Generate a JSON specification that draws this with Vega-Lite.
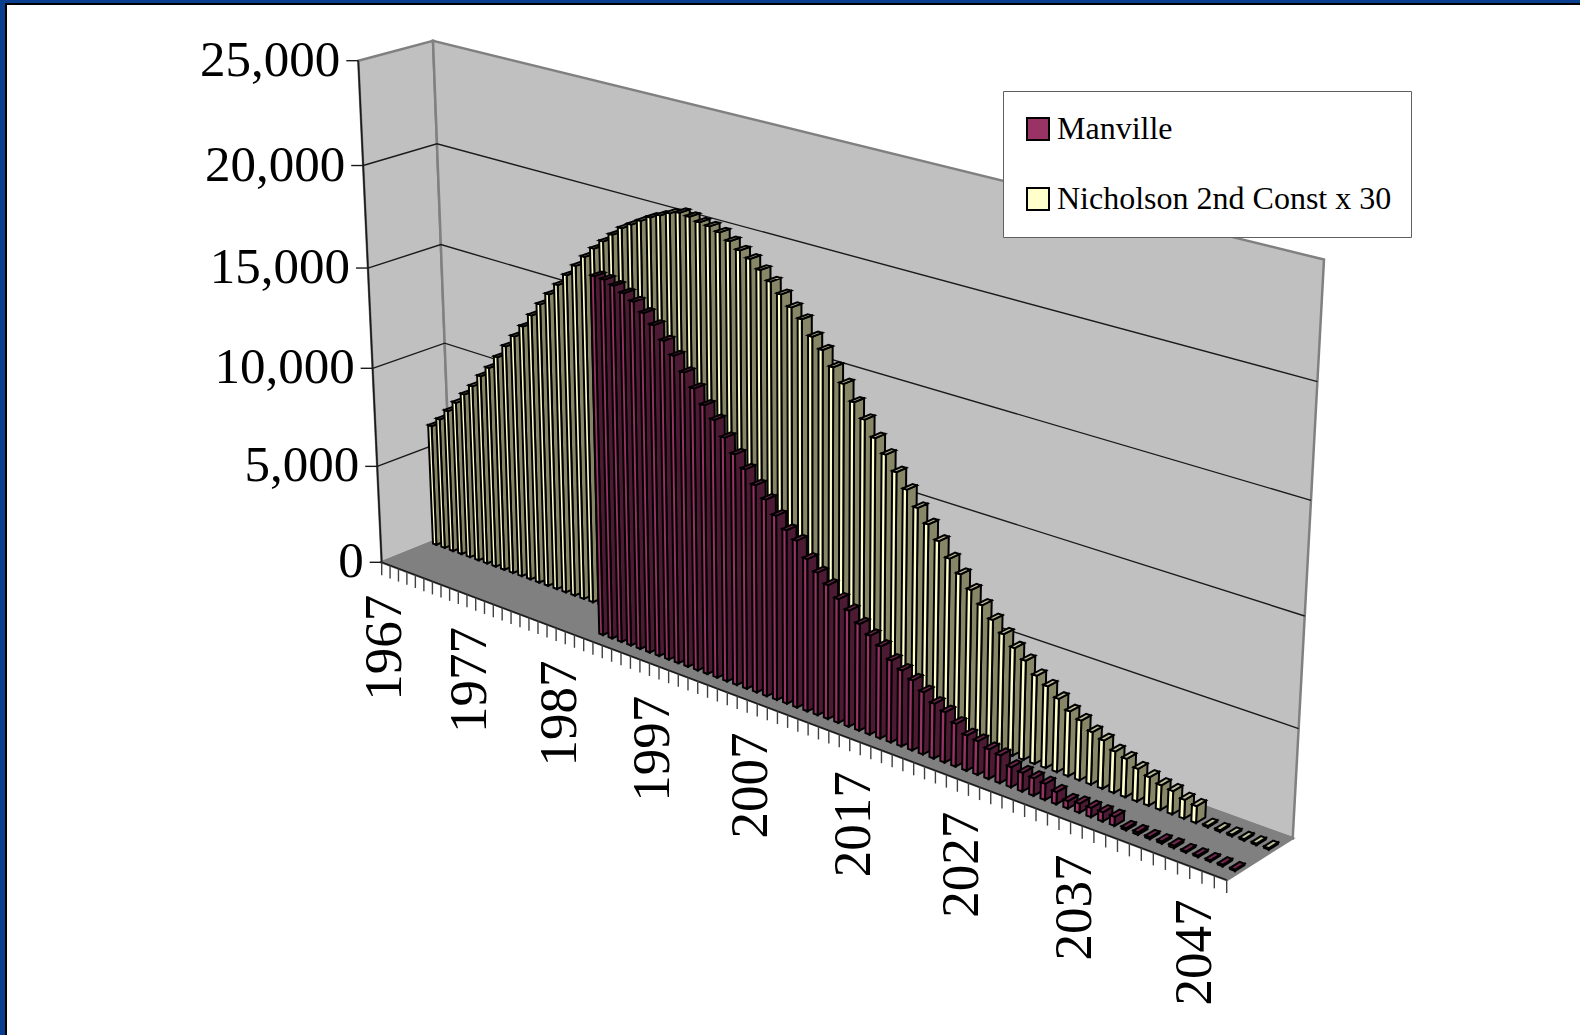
{
"$schema":"https://vega.github.io/schema/vega-lite/v6.json",
"width":1574,"height":1031,"autosize":"none",
"padding":{"left":6,"top":4,"right":0,"bottom":0},
"background":"#0A3F8F",
"view":{"fill":"#ffffff","stroke":"#000000","strokeWidth":2,"strokeDash":[1574,2605,1031,1]},
"projection":{"type":"identity","scale":1,"translate":[-6,-4]},
"data":{"values":[
{"series":"Wall","part":"side"},{"series":"Wall","part":"front"},{"series":"Wall","part":"top"},
{"series":"Nicholson 2nd Const x 30","year":1967,"value":6230},{"series":"Nicholson 2nd Const x 30","year":1968,"value":6720},{"series":"Nicholson 2nd Const x 30","year":1969,"value":7300},{"series":"Nicholson 2nd Const x 30","year":1970,"value":7870},{"series":"Nicholson 2nd Const x 30","year":1971,"value":8440},{"series":"Nicholson 2nd Const x 30","year":1972,"value":9000},{"series":"Nicholson 2nd Const x 30","year":1973,"value":9650},{"series":"Nicholson 2nd Const x 30","year":1974,"value":10210},{"series":"Nicholson 2nd Const x 30","year":1975,"value":10890},{"series":"Nicholson 2nd Const x 30","year":1976,"value":11570},
{"series":"Nicholson 2nd Const x 30","year":1977,"value":12200},{"series":"Nicholson 2nd Const x 30","year":1978,"value":12830},{"series":"Nicholson 2nd Const x 30","year":1979,"value":13510},{"series":"Nicholson 2nd Const x 30","year":1980,"value":14190},{"series":"Nicholson 2nd Const x 30","year":1981,"value":14810},{"series":"Nicholson 2nd Const x 30","year":1982,"value":15400},{"series":"Nicholson 2nd Const x 30","year":1983,"value":16000},{"series":"Nicholson 2nd Const x 30","year":1984,"value":16580},{"series":"Nicholson 2nd Const x 30","year":1985,"value":17140},{"series":"Nicholson 2nd Const x 30","year":1986,"value":17660},
{"series":"Nicholson 2nd Const x 30","year":1987,"value":18130},{"series":"Nicholson 2nd Const x 30","year":1988,"value":18570},{"series":"Nicholson 2nd Const x 30","year":1989,"value":19010},{"series":"Nicholson 2nd Const x 30","year":1990,"value":19300},{"series":"Nicholson 2nd Const x 30","year":1991,"value":19600},{"series":"Nicholson 2nd Const x 30","year":1992,"value":19880},{"series":"Nicholson 2nd Const x 30","year":1993,"value":20100},{"series":"Nicholson 2nd Const x 30","year":1994,"value":20320},{"series":"Nicholson 2nd Const x 30","year":1995,"value":20470},{"series":"Nicholson 2nd Const x 30","year":1996,"value":20410},
{"series":"Nicholson 2nd Const x 30","year":1997,"value":20280},{"series":"Nicholson 2nd Const x 30","year":1998,"value":20220},{"series":"Nicholson 2nd Const x 30","year":1999,"value":20070},{"series":"Nicholson 2nd Const x 30","year":2000,"value":19790},{"series":"Nicholson 2nd Const x 30","year":2001,"value":19500},{"series":"Nicholson 2nd Const x 30","year":2002,"value":19240},{"series":"Nicholson 2nd Const x 30","year":2003,"value":18860},{"series":"Nicholson 2nd Const x 30","year":2004,"value":18460},{"series":"Nicholson 2nd Const x 30","year":2005,"value":18010},{"series":"Nicholson 2nd Const x 30","year":2006,"value":17550},
{"series":"Nicholson 2nd Const x 30","year":2007,"value":17140},{"series":"Nicholson 2nd Const x 30","year":2008,"value":16480},{"series":"Nicholson 2nd Const x 30","year":2009,"value":16010},{"series":"Nicholson 2nd Const x 30","year":2010,"value":15360},{"series":"Nicholson 2nd Const x 30","year":2011,"value":14740},{"series":"Nicholson 2nd Const x 30","year":2012,"value":14040},{"series":"Nicholson 2nd Const x 30","year":2013,"value":13390},{"series":"Nicholson 2nd Const x 30","year":2014,"value":12690},{"series":"Nicholson 2nd Const x 30","year":2015,"value":12080},{"series":"Nicholson 2nd Const x 30","year":2016,"value":11420},
{"series":"Nicholson 2nd Const x 30","year":2017,"value":10770},{"series":"Nicholson 2nd Const x 30","year":2018,"value":10080},{"series":"Nicholson 2nd Const x 30","year":2019,"value":9480},{"series":"Nicholson 2nd Const x 30","year":2020,"value":8870},{"series":"Nicholson 2nd Const x 30","year":2021,"value":8220},{"series":"Nicholson 2nd Const x 30","year":2022,"value":7660},{"series":"Nicholson 2nd Const x 30","year":2023,"value":7100},{"series":"Nicholson 2nd Const x 30","year":2024,"value":6560},{"series":"Nicholson 2nd Const x 30","year":2025,"value":6050},{"series":"Nicholson 2nd Const x 30","year":2026,"value":5560},
{"series":"Nicholson 2nd Const x 30","year":2027,"value":5090},{"series":"Nicholson 2nd Const x 30","year":2028,"value":4680},{"series":"Nicholson 2nd Const x 30","year":2029,"value":4160},{"series":"Nicholson 2nd Const x 30","year":2030,"value":3850},{"series":"Nicholson 2nd Const x 30","year":2031,"value":3450},{"series":"Nicholson 2nd Const x 30","year":2032,"value":3050},{"series":"Nicholson 2nd Const x 30","year":2033,"value":2810},{"series":"Nicholson 2nd Const x 30","year":2034,"value":2460},{"series":"Nicholson 2nd Const x 30","year":2035,"value":2260},{"series":"Nicholson 2nd Const x 30","year":2036,"value":1940},
{"series":"Nicholson 2nd Const x 30","year":2037,"value":1790},{"series":"Nicholson 2nd Const x 30","year":2038,"value":1520},{"series":"Nicholson 2nd Const x 30","year":2039,"value":1330},{"series":"Nicholson 2nd Const x 30","year":2040,"value":1150},{"series":"Nicholson 2nd Const x 30","year":2041,"value":1080},{"series":"Nicholson 2nd Const x 30","year":2042,"value":870},{"series":"Nicholson 2nd Const x 30","year":2043,"value":780},{"series":"Nicholson 2nd Const x 30","year":2044,"value":70},{"series":"Nicholson 2nd Const x 30","year":2045,"value":70},{"series":"Nicholson 2nd Const x 30","year":2046,"value":70},{"series":"Nicholson 2nd Const x 30","year":2047,"value":70},{"series":"Nicholson 2nd Const x 30","year":2048,"value":70},{"series":"Nicholson 2nd Const x 30","year":2049,"value":70},
{"series":"Manville","year":1990,"value":17480},{"series":"Manville","year":1991,"value":17450},{"series":"Manville","year":1992,"value":17300},{"series":"Manville","year":1993,"value":17080},{"series":"Manville","year":1994,"value":16820},{"series":"Manville","year":1995,"value":16430},{"series":"Manville","year":1996,"value":16000},{"series":"Manville","year":1997,"value":15410},{"series":"Manville","year":1998,"value":14850},{"series":"Manville","year":1999,"value":14210},
{"series":"Manville","year":2000,"value":13610},{"series":"Manville","year":2001,"value":12970},{"series":"Manville","year":2002,"value":12430},{"series":"Manville","year":2003,"value":11750},{"series":"Manville","year":2004,"value":11120},{"series":"Manville","year":2005,"value":10570},{"series":"Manville","year":2006,"value":9980},{"series":"Manville","year":2007,"value":9460},{"series":"Manville","year":2008,"value":8860},{"series":"Manville","year":2009,"value":8340},
{"series":"Manville","year":2010,"value":8010},{"series":"Manville","year":2011,"value":7310},{"series":"Manville","year":2012,"value":6840},{"series":"Manville","year":2013,"value":6420},{"series":"Manville","year":2014,"value":5930},{"series":"Manville","year":2015,"value":5560},{"series":"Manville","year":2016,"value":5100},{"series":"Manville","year":2017,"value":4730},{"series":"Manville","year":2018,"value":4390},{"series":"Manville","year":2019,"value":3910},
{"series":"Manville","year":2020,"value":3620},{"series":"Manville","year":2021,"value":3330},{"series":"Manville","year":2022,"value":2960},{"series":"Manville","year":2023,"value":2600},{"series":"Manville","year":2024,"value":2390},{"series":"Manville","year":2025,"value":2030},{"series":"Manville","year":2026,"value":1670},{"series":"Manville","year":2027,"value":1590},{"series":"Manville","year":2028,"value":1400},{"series":"Manville","year":2029,"value":1310},
{"series":"Manville","year":2030,"value":950},{"series":"Manville","year":2031,"value":880},{"series":"Manville","year":2032,"value":820},{"series":"Manville","year":2033,"value":760},{"series":"Manville","year":2034,"value":570},{"series":"Manville","year":2035,"value":350},{"series":"Manville","year":2036,"value":430},{"series":"Manville","year":2037,"value":430},{"series":"Manville","year":2038,"value":430},{"series":"Manville","year":2039,"value":420},
{"series":"Manville","year":2040,"value":100},{"series":"Manville","year":2041,"value":110},{"series":"Manville","year":2042,"value":90},{"series":"Manville","year":2043,"value":100},{"series":"Manville","year":2044,"value":110},{"series":"Manville","year":2045,"value":60},{"series":"Manville","year":2046,"value":70},{"series":"Manville","year":2047,"value":60},{"series":"Manville","year":2048,"value":70},{"series":"Manville","year":2049,"value":60}
]},
"transform":[
{"fold":["side","front","top"],"as":["face","unused"]},
{"filter":"datum.series!='Wall'||datum.part==datum.face"},
{"calculate":"datum.series=='Wall'","as":"isWall"},
{"calculate":"datum.isWall?0:(datum.year-1967+0.3)/83","as":"u0"},
{"calculate":"datum.isWall?(datum.part=='side'?0:1):(datum.year-1967+0.7)/83","as":"u1"},
{"calculate":"datum.isWall?(datum.part=='front'?1:0):(datum.series=='Manville'?0.18:0.69)","as":"v0"},
{"calculate":"datum.isWall?1:datum.v0+0.14","as":"v1"},
{"calculate":"datum.isWall?(datum.part=='top'?0:1):datum.value/25000","as":"w"},
{"calculate":"datum.face=='side'?datum.u1:datum.u0","as":"ua"},
{"calculate":"datum.face=='front'?datum.u0:datum.u1","as":"ub"},
{"calculate":"datum.face=='top'?datum.u0:datum.u1","as":"ud"},
{"calculate":"datum.face=='front'?datum.v0:datum.v1","as":"vc"},
{"calculate":"datum.face=='top'?datum.w:0","as":"wa"},
{"calculate":"(381.7+623.46*datum.ua+79.02*datum.v0-42.75*datum.wa-2.5*datum.ua*datum.wa)/(1-0.1806*datum.ua+0.01929*datum.v0-0.054*datum.wa)","as":"xa"},
{"calculate":"(562.3+158.77*datum.ua-18*datum.v0-504.9*datum.wa+5.5*datum.ua*datum.wa)/(1-0.1806*datum.ua+0.01929*datum.v0-0.054*datum.wa)","as":"ya"},
{"calculate":"(381.7+623.46*datum.ub+79.02*datum.v0-42.75*datum.w-2.5*datum.ub*datum.w)/(1-0.1806*datum.ub+0.01929*datum.v0-0.054*datum.w)","as":"xb"},
{"calculate":"(562.3+158.77*datum.ub-18*datum.v0-504.9*datum.w+5.5*datum.ub*datum.w)/(1-0.1806*datum.ub+0.01929*datum.v0-0.054*datum.w)","as":"yb"},
{"calculate":"(381.7+623.46*datum.u1+79.02*datum.vc-42.75*datum.w-2.5*datum.u1*datum.w)/(1-0.1806*datum.u1+0.01929*datum.vc-0.054*datum.w)","as":"xc"},
{"calculate":"(562.3+158.77*datum.u1-18*datum.vc-504.9*datum.w+5.5*datum.u1*datum.w)/(1-0.1806*datum.u1+0.01929*datum.vc-0.054*datum.w)","as":"yc"},
{"calculate":"(381.7+623.46*datum.ud+79.02*datum.vc-42.75*datum.wa-2.5*datum.ud*datum.wa)/(1-0.1806*datum.ud+0.01929*datum.vc-0.054*datum.wa)","as":"xd"},
{"calculate":"(562.3+158.77*datum.ud-18*datum.vc-504.9*datum.wa+5.5*datum.ud*datum.wa)/(1-0.1806*datum.ud+0.01929*datum.vc-0.054*datum.wa)","as":"yd"},
{"calculate":"{type:'Polygon',coordinates:[[[datum.xa,datum.ya],[datum.xb,datum.yb],[datum.xc,datum.yc],[datum.xd,datum.yd],[datum.xa,datum.ya]]]}","as":"geo"},
{"calculate":"datum.series+'|'+datum.face","as":"paint"}
],
"encoding":{"fill":{"field":"paint","type":"nominal",
  "scale":{"domain":["Wall|side","Wall|front","Wall|top","Manville|front","Manville|side","Manville|top","Nicholson 2nd Const x 30|front","Nicholson 2nd Const x 30|side","Nicholson 2nd Const x 30|top"],
   "range":["#C0C0C0","#C0C0C0","#808080","#993366","#4D1A33","#73264D","#FFFFCC","#878768","#BFBF99"]},
  "legend":{"title":null,"orient":"none","legendX":997,"legendY":87,"values":["Manville|front","Nicholson 2nd Const x 30|front"],"labelExpr":"split(datum.label,'|')[0]","symbolType":"square","symbolSize":484,"symbolStrokeColor":"#000000","symbolStrokeWidth":2,"labelFont":"Liberation Serif","labelFontSize":32,"labelOffset":3,"labelColor":"#000000","labelLimit":500,"fillColor":"#ffffff","strokeColor":"#606060","padding":19,"rowPadding":32,"clipHeight":38}}},
"layer":[
{"transform":[{"filter":"datum.isWall"}],
 "mark":{"type":"geoshape","stroke":"#808080","strokeWidth":2.5},
 "encoding":{"shape":{"field":"geo","type":"geojson"}}},
{"data":{"values":[{"value":5000},{"value":10000},{"value":15000},{"value":20000}]},
 "transform":[
 {"calculate":"datum.value/25000","as":"w"},
 {"calculate":"{type:'LineString',coordinates:[[(381.7-42.75*datum.w)/(1-0.054*datum.w),(562.3-504.9*datum.w)/(1-0.054*datum.w)],[(460.72-42.75*datum.w)/(1.01929-0.054*datum.w),(544.3-504.9*datum.w)/(1.01929-0.054*datum.w)],[(1084.18-45.25*datum.w)/(0.83869-0.054*datum.w),(703.07-499.4*datum.w)/(0.83869-0.054*datum.w)]]}","as":"geo"}],
 "mark":{"type":"geoshape","filled":false,"stroke":"#1a1a1a","strokeWidth":1.4},
 "encoding":{"fill":null,"shape":{"field":"geo","type":"geojson"}}},
{"data":{"values":[{"value":0},{"value":5000},{"value":10000},{"value":15000},{"value":20000},{"value":25000}]},
 "transform":[
 {"calculate":"datum.value/25000","as":"w"},
 {"calculate":"(381.7-42.75*datum.w)/(1-0.054*datum.w)","as":"px"},
 {"calculate":"(562.3-504.9*datum.w)/(1-0.054*datum.w)","as":"py"},
 {"calculate":"{type:'LineString',coordinates:[[datum.px-12,datum.py],[datum.px,datum.py]]}","as":"geo"}],
 "mark":{"type":"geoshape","filled":false,"stroke":"#1a1a1a","strokeWidth":1.4},
 "encoding":{"fill":null,"shape":{"field":"geo","type":"geojson"}}},
{"data":{"values":[{"value":0},{"value":5000},{"value":10000},{"value":15000},{"value":20000},{"value":25000}]},
 "transform":[
 {"calculate":"datum.value/25000","as":"w"},
 {"calculate":"(381.7-42.75*datum.w)/(1-0.054*datum.w)-18","as":"px"},
 {"calculate":"(562.3-504.9*datum.w)/(1-0.054*datum.w)","as":"py"},
 {"calculate":"format(datum.value,',')","as":"label"}],
 "mark":{"type":"text","font":"Liberation Serif","fontSize":51,"align":"right","baseline":"middle","color":"#000000"},
 "encoding":{"fill":null,"longitude":{"field":"px","type":"quantitative"},"latitude":{"field":"py","type":"quantitative"},"text":{"field":"label","type":"nominal"}}},
{"data":{"values":[{"edge":"left"},{"edge":"front"}]},
 "transform":[
 {"calculate":"datum.edge=='left'?{type:'LineString',coordinates:[[381.7,562.3],[(381.7-42.75)/(1-0.054),(562.3-504.9)/(1-0.054)]]}:{type:'LineString',coordinates:[[381.7,562.3],[(381.7+623.46)/(1-0.1806),(562.3+158.77)/(1-0.1806)]]}","as":"geo"}],
 "mark":{"type":"geoshape","filled":false,"stroke":"#1a1a1a","strokeWidth":1.6},
 "encoding":{"fill":null,"shape":{"field":"geo","type":"geojson"}}},
{"data":{"values":[{"year":1967},{"year":1968},{"year":1969},{"year":1970},{"year":1971},{"year":1972},{"year":1973},{"year":1974},{"year":1975},{"year":1976},{"year":1977},{"year":1978},{"year":1979},{"year":1980},{"year":1981},{"year":1982},{"year":1983},{"year":1984},{"year":1985},{"year":1986},{"year":1987},{"year":1988},{"year":1989},{"year":1990},{"year":1991},{"year":1992},{"year":1993},{"year":1994},{"year":1995},{"year":1996},{"year":1997},{"year":1998},{"year":1999},{"year":2000},{"year":2001},{"year":2002},{"year":2003},{"year":2004},{"year":2005},{"year":2006},{"year":2007},{"year":2008},{"year":2009},{"year":2010},{"year":2011},{"year":2012},{"year":2013},{"year":2014},{"year":2015},{"year":2016},{"year":2017},{"year":2018},{"year":2019},{"year":2020},{"year":2021},{"year":2022},{"year":2023},{"year":2024},{"year":2025},{"year":2026},{"year":2027},{"year":2028},{"year":2029},{"year":2030},{"year":2031},{"year":2032},{"year":2033},{"year":2034},{"year":2035},{"year":2036},{"year":2037},{"year":2038},{"year":2039},{"year":2040},{"year":2041},{"year":2042},{"year":2043},{"year":2044},{"year":2045},{"year":2046},{"year":2047},{"year":2048},{"year":2049},{"year":2050}]},
 "transform":[
 {"calculate":"(datum.year-1967)/83","as":"u"},
 {"calculate":"(381.7+623.46*datum.u)/(1-0.1806*datum.u)","as":"px"},
 {"calculate":"(562.3+158.77*datum.u)/(1-0.1806*datum.u)","as":"py"},
 {"calculate":"{type:'LineString',coordinates:[[datum.px,datum.py],[datum.px,datum.py+13]]}","as":"geo"}],
 "mark":{"type":"geoshape","filled":false,"stroke":"#404040","strokeWidth":1.4},
 "encoding":{"fill":null,"shape":{"field":"geo","type":"geojson"}}},
{"data":{"values":[{"year":1967},{"year":1977},{"year":1987},{"year":1997},{"year":2007},{"year":2017},{"year":2027},{"year":2037},{"year":2047}]},
 "transform":[
 {"calculate":"(datum.year-1967+0.5)/83","as":"u"},
 {"calculate":"(381.7+623.46*datum.u)/(1-0.1806*datum.u)-1","as":"px"},
 {"calculate":"(562.3+158.77*datum.u)/(1-0.1806*datum.u)+31","as":"py"},
 {"calculate":"''+datum.year","as":"label"}],
 "mark":{"type":"text","font":"Liberation Serif","fontSize":53,"align":"right","baseline":"middle","angle":270,"color":"#000000"},
 "encoding":{"fill":null,"longitude":{"field":"px","type":"quantitative"},"latitude":{"field":"py","type":"quantitative"},"text":{"field":"label","type":"nominal"}}},
{"transform":[{"filter":"!datum.isWall"}],
 "mark":{"type":"geoshape","stroke":"#000000","strokeWidth":2},
 "encoding":{"shape":{"field":"geo","type":"geojson"}}}
]
}
